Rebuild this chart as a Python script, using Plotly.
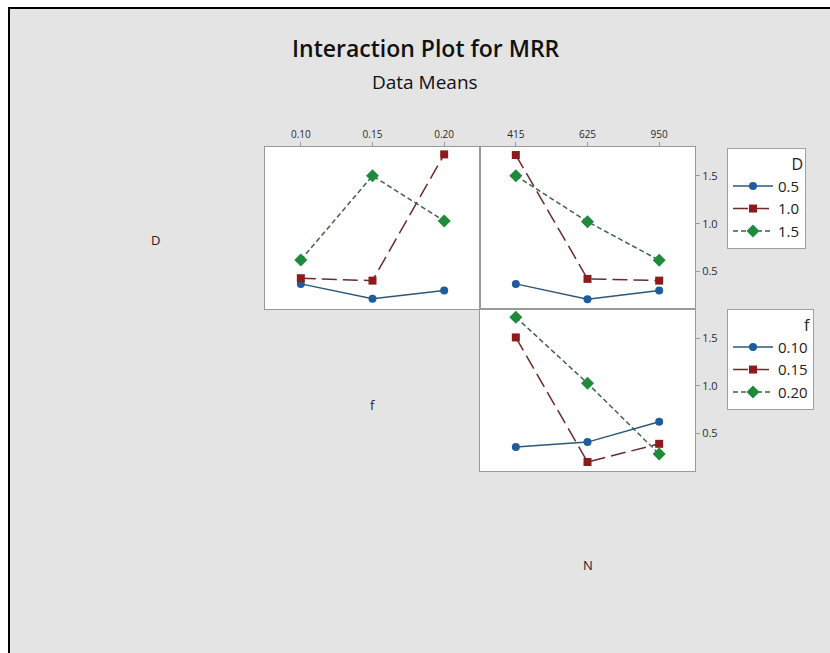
import plotly.graph_objects as go

W, H = 830, 653

# Factor levels (tick labels)
f_levels = ["0.10", "0.15", "0.20"]
N_levels = ["415", "625", "950"]
D_names = ["0.5", "1.0", "1.5"]
f_names = ["0.10", "0.15", "0.20"]

# Mean MRR, panel D x f (x = f)
mrr_f_D05 = [0.372, 0.216, 0.302]
mrr_f_D10 = [0.431, 0.406, 1.723]
mrr_f_D15 = [0.622, 1.500, 1.028]
# Mean MRR, panel D x N (x = N)
mrr_N_D05 = [0.372, 0.213, 0.302]
mrr_N_D10 = [1.716, 0.424, 0.406]
mrr_N_D15 = [1.500, 1.021, 0.619]
# Mean MRR, panel f x N (x = N)
mrr_N_f010 = [0.353, 0.405, 0.619]
mrr_N_f015 = [1.510, 0.195, 0.387]
mrr_N_f020 = [1.724, 1.026, 0.279]


def px(x):
    return x / W


def py(y):
    return 1 - y / H


styles = [
    dict(mcolor="#1f5c9b", lcolor="#2d5678", dash="solid", symbol="circle", size=8),
    dict(mcolor="#8e1b1b", lcolor="#6b2b2b", dash="15px,6px", symbol="square", size=8),
    dict(mcolor="#1e8a3a", lcolor="#3f6148", dash="5px,3px", symbol="diamond", size=10),
]

fig = go.Figure()


def add(xvals, yvals, name, st, xa, ya, legend, showlegend):
    fig.add_trace(go.Scatter(
        x=xvals, y=yvals, name=name, mode="lines+markers",
        xaxis=xa, yaxis=ya, legend=legend, showlegend=showlegend,
        line=dict(color=st["lcolor"], width=1.5, dash=st["dash"]),
        marker=dict(color=st["mcolor"], symbol=st["symbol"], size=st["size"]),
    ))


for name, vals, st in zip(D_names, [mrr_f_D05, mrr_f_D10, mrr_f_D15], styles):
    add(f_levels, vals, name, st, "x", "y", "legend", True)
for name, vals, st in zip(D_names, [mrr_N_D05, mrr_N_D10, mrr_N_D15], styles):
    add(N_levels, vals, name, st, "x2", "y2", "legend", False)
for name, vals, st in zip(f_names, [mrr_N_f010, mrr_N_f015, mrr_N_f020], styles):
    add(N_levels, vals, name, st, "x3", "y3", "legend2", True)

axcol = "#9a9a9a"
tickfont = dict(family="Open Sans", size=10, color="#2a2a2a")
common_x = dict(type="category", range=[-0.5, 2.5], showgrid=False, zeroline=False,
                showline=True, mirror=True, linecolor=axcol, linewidth=1,
                tickfont=tickfont, tickcolor=axcol, ticklen=4)
common_y = dict(showgrid=False, zeroline=False, showline=True, mirror=True,
                linecolor=axcol, linewidth=1, tickfont=dict(family="Open Sans", size=11, color="#2a2a2a"),
                tickcolor=axcol, ticklen=4, tickvals=[0.5, 1.0, 1.5], ticktext=["0.5", "1.0", "1.5"])

top_dom = [py(309), py(147)]
bot_dom = [py(471), py(309)]

legend_common = dict(xanchor="left", yanchor="top",
                     bgcolor="#ffffff", bordercolor="#a0a0a0", borderwidth=1,
                     font=dict(family="Open Sans", size=15, color="#222222"),
                     itemwidth=40, tracegroupgap=0)


def label(text, x, y, size, color="#222222", weight="normal"):
    return dict(text=text, x=px(x), y=py(y), xref="paper", yref="paper",
                xanchor="center", yanchor="middle", showarrow=False,
                font=dict(size=size, color=color, family="Open Sans", weight=weight))


fig.update_layout(
    width=W, height=H,
    margin=dict(l=0, r=0, t=0, b=0, pad=0),
    paper_bgcolor="#e4e4e4",
    plot_bgcolor="#ffffff",
    font=dict(family="Open Sans", color="#222222"),
    xaxis=dict(common_x, domain=[px(265), px(480)], anchor="y", side="top", ticks="outside"),
    yaxis=dict(common_y, domain=top_dom, anchor="x", range=[0.11, 1.80], showticklabels=False, ticks=""),
    xaxis2=dict(common_x, domain=[px(480), px(695)], anchor="y2", side="top", ticks="outside"),
    yaxis2=dict(common_y, domain=top_dom, anchor="x2", range=[0.11, 1.80], side="right", ticks="outside"),
    xaxis3=dict(common_x, domain=[px(480), px(695)], anchor="y3", showticklabels=False, ticks=""),
    yaxis3=dict(common_y, domain=bot_dom, anchor="x3", range=[0.10, 1.81], side="right", ticks="outside"),
    legend=dict(legend_common, x=px(727), y=py(148),
                title=dict(text="D", side="top right", font=dict(size=16))),
    legend2=dict(legend_common, x=px(727), y=py(309),
                 title=dict(text="f", side="top right", font=dict(size=16))),
    shapes=[
        dict(type="rect", xref="paper", yref="paper", x0=0, x1=1, y0=py(8), y1=1,
             fillcolor="#ffffff", line=dict(width=0)),
        dict(type="rect", xref="paper", yref="paper", x0=0, x1=px(9), y0=0, y1=1,
             fillcolor="#ffffff", line=dict(width=0)),
        dict(type="line", xref="paper", yref="paper", x0=px(8), x1=1, y0=py(8), y1=py(8),
             line=dict(color="#000000", width=2)),
        dict(type="line", xref="paper", yref="paper", x0=px(9), x1=px(9), y0=0, y1=py(7),
             line=dict(color="#000000", width=2)),
    ],
    annotations=[
        label("Interaction Plot for MRR", 426, 48, 23, "#111111", 600),
        label("Data Means", 425, 82, 19, "#111111"),
        label("D", 155, 240, 13),
        label("f", 372, 405, 13),
        label("N", 588, 565, 13),
    ],
)

fig.write_html("out.html", config={"displayModeBar": False},
               post_script="document.body.style.margin='0';")
